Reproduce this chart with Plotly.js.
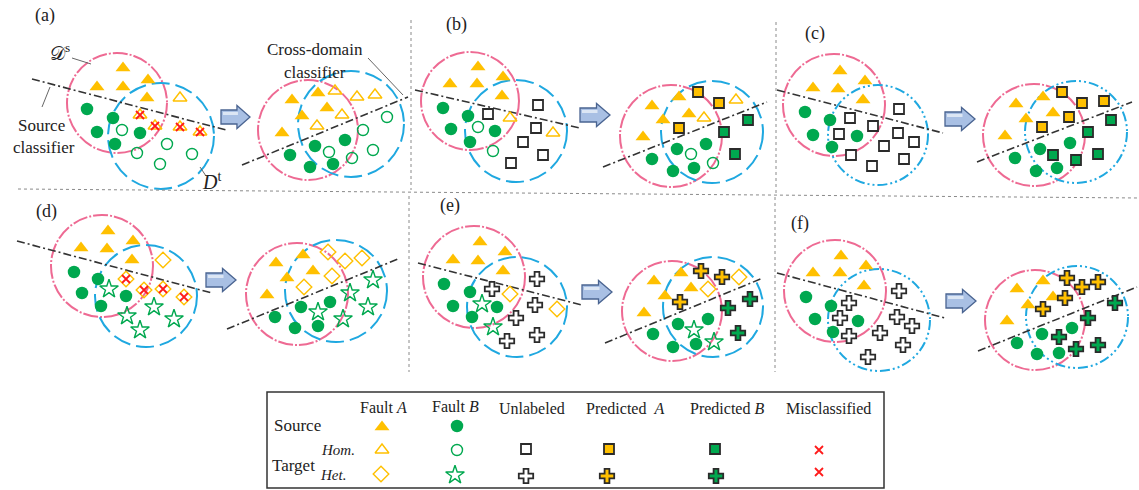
<!DOCTYPE html>
<html>
<head>
<meta charset="utf-8">
<script src="https://cdn.plot.ly/plotly-3.0.1.min.js"></script>
<style>html,body{margin:0;padding:0;background:#fff;}#fig{width:1139px;height:490px;}</style>
</head>
<body>
<div id="fig"></div>
<script>
// ---- Sample points of each panel (page pixel coordinates) ----
// (a) homogeneous, source classifier -> cross-domain classifier
const aL_srcA = [[123,68],[97,87],[123,87],[148,80],[147,98]];
const aL_srcB = [[87,109],[113,118],[97,132],[140,133],[115,144]];
const aL_homA = [[180,98]];
const aL_homB = [[122,130],[137,153],[167,144],[160,164],[192,154]];
const aL_misA = [[140,115],[155,126],[180,127],[200,132]];
const aR_srcA = [[292,100],[318,93],[302,116],[327,108],[282,133]];
const aR_homA = [[335,91],[357,97],[375,95],[342,115],[317,126]];
const aR_srcB = [[345,140],[315,146],[290,155],[310,167],[333,164]];
const aR_homB = [[363,130],[387,117],[329,152],[373,150],[352,158]];
// (b) partly labelled homogeneous target
const bL_srcA = [[478,67],[450,84],[477,84],[503,77],[502,96]];
const bL_srcB = [[443,108],[468,116],[451,129],[495,131],[470,142]];
const bL_homA = [[510,118],[553,133]];
const bL_homB = [[478,127],[493,151]];
const bL_unlHom = [[488,114],[538,105],[536,128],[523,142],[543,155],[511,163]];
const bR_srcA = [[679,97],[652,106],[689,114],[663,120],[643,137]];
const bR_homA = [[736,100],[704,118]];
const bR_predAHom = [[698,92],[719,103],[679,128]];
const bR_predBHom = [[748,120],[724,132],[735,154]];
const bR_srcB = [[706,144],[677,149],[652,159],[694,168],[673,171]];
const bR_homB = [[691,154],[713,163]];
// (c) unlabelled homogeneous target
const cL_srcA = [[840,71],[813,88],[838,89],[865,81],[863,100]];
const cL_srcB = [[805,112],[830,120],[813,135],[857,136],[832,147]];
const cL_unlHom = [[850,118],[873,126],[899,109],[839,134],[898,133],[884,146],[914,142],[851,155],[904,159],[872,166]];
const cR_srcA = [[1043,97],[1016,104],[1053,113],[1026,119],[1005,136]];
const cR_predAHom = [[1062,92],[1082,103],[1104,101],[1069,117],[1042,127]];
const cR_predBHom = [[1111,120],[1088,132],[1098,154],[1053,155],[1076,160]];
const cR_srcB = [[1070,143],[1040,149],[1015,158],[1057,168],[1036,171]];
// (d) heterogeneous, labelled target
const dL_srcA = [[108,231],[81,248],[107,249],[133,241],[132,260]];
const dL_hetA = [[163,260]];
const dL_misA = [[126,279],[144,290],[163,289],[184,297]];
const dL_srcB = [[74,272],[98,279],[82,293],[126,296],[101,306]];
const dL_hetB = [[109,289],[127,316],[154,307],[174,319],[140,330]];
const dR_srcA = [[276,263],[303,255],[313,271],[287,278],[267,295]];
const dR_hetA = [[328,252],[345,261],[362,258],[332,276],[304,287]];
const dR_srcB = [[330,302],[301,307],[275,317],[318,326],[295,328]];
const dR_hetB = [[373,280],[350,293],[368,307],[318,312],[343,319]];
// (e) partly labelled heterogeneous target
const eL_srcA = [[480,242],[453,260],[478,261],[505,252],[503,271]];
const eL_srcB = [[444,284],[470,292],[453,306],[497,307],[472,317]];
const eL_hetA = [[510,294],[557,309]];
const eL_hetB = [[482,304],[493,327]];
const eL_unlHet = [[492,289],[537,279],[535,305],[516,318],[537,335],[507,341]];
const eR_srcA = [[681,273],[654,281],[691,288],[665,296],[644,313]];
const eR_hetA = [[739,277],[708,289]];
const eR_predAHet = [[701,271],[722,277],[680,302]];
const eR_predBHet = [[750,299],[728,308],[738,333]];
const eR_srcB = [[708,319],[678,324],[653,334],[696,344],[673,347]];
const eR_hetB = [[694,330],[714,342]];
// (f) unlabelled heterogeneous target
const fL_srcA = [[841,256],[813,273],[840,273],[866,266],[864,286]];
const fL_srcB = [[806,297],[831,306],[815,319],[858,321],[833,332]];
const fL_unlHet = [[849,303],[899,291],[840,318],[897,317],[912,326],[849,336],[880,333],[903,345],[868,357]];
const fR_srcA = [[1043,281],[1017,289],[1053,297],[1028,305],[1007,321]];
const fR_predAHet = [[1067,278],[1082,287],[1098,282],[1065,298],[1043,309]];
const fR_predBHet = [[1115,303],[1088,318],[1059,337],[1076,349],[1098,345]];
const fR_srcB = [[1072,328],[1042,334],[1017,343],[1059,353],[1037,354]];

// Domains: [cx, cy, r]
const sourceDomains = [[117,103,50],[308,130,50],[470,101,49],[671,136,51],[834,105,51],[1034,135,51],
                       [102,266,51],[297,294,51],[474,277,51],[672,311,50],[835,291,51],[1035,320,50]];
const targetDomains = [[161,136,53],[351,124,53],[516,131,51],[712,132,51],[878,135,50],[1076,132,51],
                       [146,296,51],[336,291,51],[517,307,50],[713,307,50],[879,320,51],[1077,317,51]];
const targetUnlabelled = [false,false,false,false,true,true,false,false,false,false,true,true];

// Classifier boundaries: [x0, y0, x1, y1]
const classifiers = [[32,79,226,130],[242,165,408,97],[415,90,580,128],[603,167,767,102],
                     [777,90,943,133],[977,162,1132,102],[17,241,212,293],[227,329,398,259],
                     [418,263,582,305],[605,343,763,278],[777,273,945,318],[978,351,1137,287]];
// Transition arrows: [xStart, xTip, yCentre]
const arrows = [[221,250,117],[580,610,115],[945,975,119],[206,236,280],[582,612,292],[946,976,301]];

// Legend
const legendCols = ['Fault <i>A</i>','Fault <i>B</i>','Unlabeled','Predicted\u00a0 <i>A</i>','Predicted <i>B</i>','Misclassified'];
const legendRows = ['Source','Target'];
const legendSub = ['Hom.','Het.'];
const leg_srcA = [[382,427]], leg_srcB = [[457,426]];
const leg_homA = [[382,450]], leg_homB = [[457,450]], leg_unlHom = [[526,449]];
const leg_predAHom = [[609,449]], leg_predBHom = [[715,449]], leg_mis = [[819,450],[819,472]];
const leg_hetA = [[381,474]], leg_hetB = [[455,475]], leg_unlHet = [[526,476]];
const leg_predAHet = [[607,476]], leg_predBHet = [[716,476]];

// ---- Styles ----
const GOLD = '#FFC000', GREEN = '#00A84F', DARK = '#2b2b2b', RED = '#FF1A1A';
const PINK = '#EE6A93', BLUE = '#1FA8E0';
const STY = {
  srcA:    {symbol:'triangle-up', size:13, color:GOLD, line:{width:0}},
  srcB:    {symbol:'circle', size:12.5, color:GREEN, line:{width:0}},
  homA:    {symbol:'triangle-up-open', size:12, color:GOLD, line:{width:1.4}},
  homB:    {symbol:'circle-open', size:11, color:GREEN, line:{width:1.4}},
  hetA:    {symbol:'diamond-open', size:12, color:GOLD, line:{width:1.4}},
  hetB:    {symbol:'star-open', size:14, color:GREEN, line:{width:1.4}},
  unlHom:  {symbol:'square', size:10, color:'#ffffff', line:{width:1.8, color:DARK}},
  predAHom:{symbol:'square', size:10, color:GOLD, line:{width:1.8, color:DARK}},
  predBHom:{symbol:'square', size:10, color:GREEN, line:{width:1.8, color:DARK}},
  unlHet:  {symbol:'cross', size:12, color:'#ffffff', line:{width:1.8, color:DARK}},
  predAHet:{symbol:'cross', size:12, color:GOLD, line:{width:1.8, color:DARK}},
  predBHet:{symbol:'cross', size:12, color:GREEN, line:{width:1.8, color:DARK}},
  mis:     {symbol:'x-thin', size:8, color:RED, line:{width:1.8, color:RED}}
};

const groups = {
  srcA: [aL_srcA,aR_srcA,bL_srcA,bR_srcA,cL_srcA,cR_srcA,dL_srcA,dR_srcA,eL_srcA,eR_srcA,fL_srcA,fR_srcA,leg_srcA],
  srcB: [aL_srcB,aR_srcB,bL_srcB,bR_srcB,cL_srcB,cR_srcB,dL_srcB,dR_srcB,eL_srcB,eR_srcB,fL_srcB,fR_srcB,leg_srcB],
  homA: [aL_homA,aL_misA,aR_homA,bL_homA,bR_homA,leg_homA],
  homB: [aL_homB,aR_homB,bL_homB,bR_homB,leg_homB],
  hetA: [dL_hetA,dL_misA,dR_hetA,eL_hetA,eR_hetA,leg_hetA],
  hetB: [dL_hetB,dR_hetB,eL_hetB,eR_hetB,leg_hetB],
  unlHom: [bL_unlHom,cL_unlHom,leg_unlHom],
  predAHom: [bR_predAHom,cR_predAHom,leg_predAHom],
  predBHom: [bR_predBHom,cR_predBHom,leg_predBHom],
  unlHet: [eL_unlHet,fL_unlHet,leg_unlHet],
  predAHet: [eR_predAHet,fR_predAHet,leg_predAHet],
  predBHet: [eR_predBHet,fR_predBHet,leg_predBHet],
  mis: [aL_misA,dL_misA,leg_mis]
};

const traces = Object.keys(groups).map(k => {
  const pts = [].concat(...groups[k]);
  return {type:'scatter', mode:'markers', x:pts.map(p=>p[0]), y:pts.map(p=>p[1]),
          marker:STY[k], hoverinfo:'skip', showlegend:false, cliponaxis:false};
});

// ---- Shapes ----
const shapes = [];
const circ = (c, color, dash) => ({type:'circle', xref:'x', yref:'y', layer:'below',
  x0:c[0]-c[2], x1:c[0]+c[2], y0:c[1]-c[2], y1:c[1]+c[2], line:{color:color, width:2, dash:dash}});
sourceDomains.forEach(c => shapes.push(circ(c, PINK, '15px,2px,2px,2px')));
targetDomains.forEach((c,i) => shapes.push(circ(c, BLUE, targetUnlabelled[i] ? '10px,3px,2px,3px,2px,3px' : '18px,6px')));
classifiers.forEach(l => shapes.push({type:'line', xref:'x', yref:'y', layer:'below',
  x0:l[0], y0:l[1], x1:l[2], y1:l[3], line:{color:'#333', width:1.6, dash:'8px,3px,2px,3px'}}));
arrows.forEach(a => {
  const [x0, xt, yc] = a, xb = x0 + (xt - x0) * 0.55;
  shapes.push({type:'path', xref:'x', yref:'y',
    path:`M${x0},${yc-7} L${xb},${yc-7} L${xb},${yc-11.5} L${xt},${yc} L${xb},${yc+11.5} L${xb},${yc+7} L${x0},${yc+7} Z`,
    fillcolor:'#A9C0E4', line:{color:'#4A6491', width:1.3}});
  shapes.push({type:'path', xref:'x', yref:'y',
    path:`M${x0+2},${yc-5} L${xb+1},${yc-5} L${xb+1},${yc-2} L${x0+2},${yc-2} Z`,
    fillcolor:'#DCE6F4', line:{width:0}});
});
// panel separators
const sep = {color:'#8a8a8a', width:1, dash:'dot'};
[[18,189,1139,198],[411,20,411,190],[776,22,776,193],[409,196,409,372],[775,197,775,372]].forEach(s =>
  shapes.push({type:'line', xref:'x', yref:'y', layer:'below', x0:s[0], y0:s[1], x1:s[2], y1:s[3], line:sep}));
// leader lines
[[72,58,91,64],[50,87,42,107],[200,167,206,176],[368,58,403,95]].forEach(s =>
  shapes.push({type:'line', xref:'x', yref:'y', layer:'below', x0:s[0], y0:s[1], x1:s[2], y1:s[3], line:{color:'#555', width:0.9}}));
// legend frame
shapes.push({type:'rect', xref:'x', yref:'y', x0:267, y0:392, x1:884, y1:488, line:{color:'#333', width:1.5}, layer:'below'});

// ---- Text ----
const serif = 'Liberation Serif';
const ann = (x, y, text, size, extra) => Object.assign({x:x, y:y, xref:'x', yref:'y', text:text, showarrow:false,
  font:{family:serif, size:size, color:'#222'}, xanchor:'center', yanchor:'middle'}, extra || {});
const annotations = [
  ann(45,15,'(a)',18), ann(456,24,'(b)',18), ann(815,33,'(c)',18),
  ann(46,211,'(d)',18), ann(450,205,'(e)',18), ann(800,223,'(f)',18),
  ann(60,52,'\uD835\uDC9F<sup>s</sup>',19), ann(211,181,'<i>D</i><sup>t</sup>',20),
  ann(41,125,'Source',17), ann(44,147,'classifier',17),
  ann(315,49,'Cross-domain',17), ann(315,72,'classifier',17),
  ann(383,407,legendCols[0],16), ann(455,406,legendCols[1],16), ann(532,408,legendCols[2],16),
  ann(625,408,legendCols[3],16), ann(727,408,legendCols[4],16), ann(828,408,legendCols[5],16),
  ann(297,425,legendRows[0],17), ann(293,465,legendRows[1],17),
  ann(338,450,'<i>'+legendSub[0]+'</i>',15), ann(333,475,'<i>'+legendSub[1]+'</i>',15)
];

const layout = {
  width:1139, height:490, margin:{l:0,r:0,t:0,b:0},
  paper_bgcolor:'#ffffff', plot_bgcolor:'#ffffff', showlegend:false,
  font:{family:serif},
  xaxis:{range:[0,1139], visible:false, fixedrange:true},
  yaxis:{range:[490,0], visible:false, fixedrange:true},
  shapes:shapes, annotations:annotations
};
Plotly.newPlot('fig', traces, layout, {staticPlot:true, displayModeBar:false});
</script>
</body>
</html>
